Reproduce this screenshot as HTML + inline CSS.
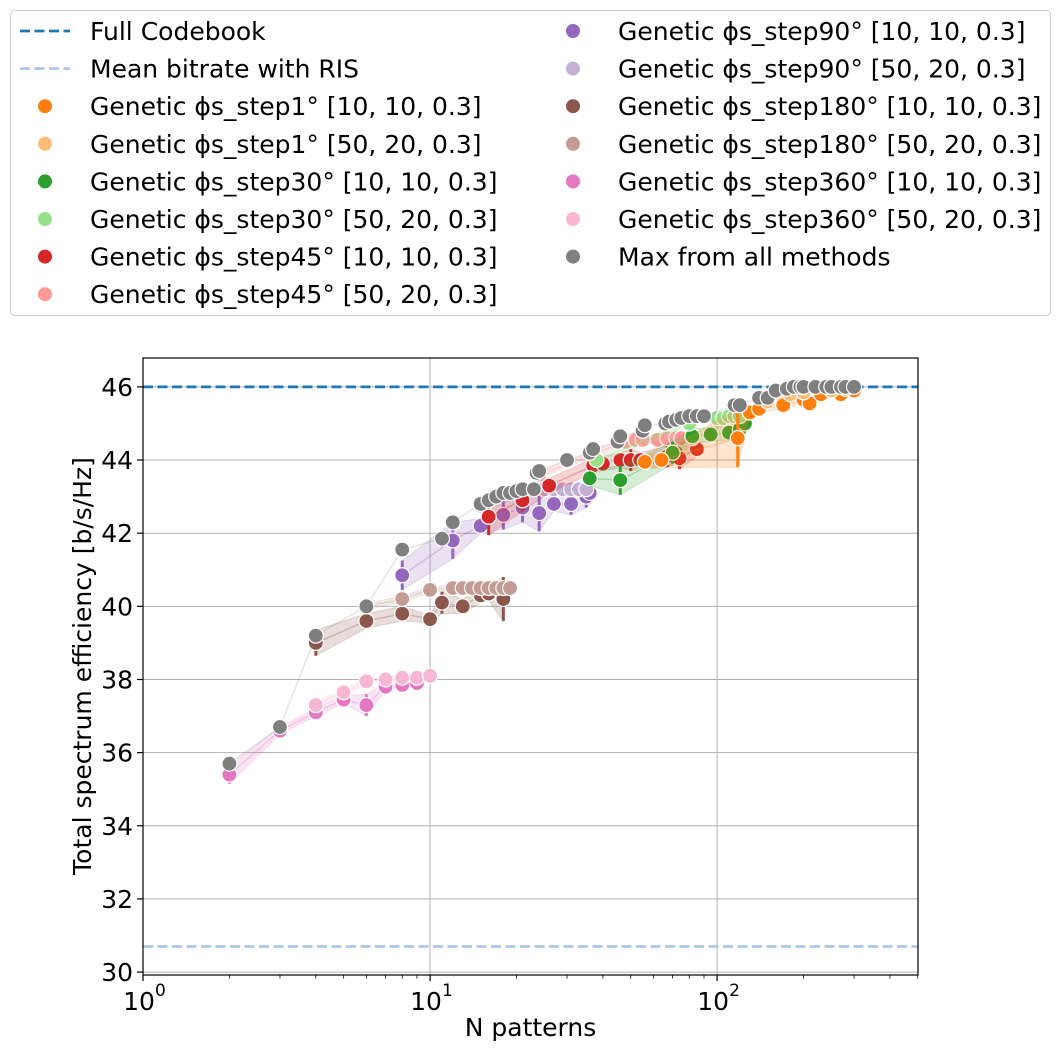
<!DOCTYPE html>
<html><head><meta charset="utf-8">
<style>
html,body{margin:0;padding:0;background:#fff;}
svg{display:block;font-family:"DejaVu Sans","Liberation Sans",sans-serif;}
</style></head>
<body>
<svg id="chart" width="1061" height="1051" viewBox="0 0 1061 1051">
<g id="legend"></g>
<g id="grid"></g>
<g id="plot"></g>
<g id="axes"></g>
</svg>
<script>
// ---- data ----
const fullCodebook = 46.0;
const meanBitrate = 30.7;
const yTicks = [30,32,34,36,38,40,42,44,46];
const xTickExps = [0,1,2];
const s1a_n = [56,64,118,130,140,170,200,210,230,270,300];
const s1a_v = [43.95,44.0,44.6,45.3,45.4,45.5,45.65,45.55,45.8,45.8,45.9];
const s1a_e = [0.2,0.2,0.8,0.1,0.1,0.1,0.1,0.1,0.1,0.1,0.1];
const s1b_n = [150,180,200,250,280];
const s1b_v = [45.6,45.8,45.85,45.9,45.95];
const s30a_n = [36,46,70,82,95,110,120,125];
const s30a_v = [43.5,43.45,44.2,44.65,44.7,44.75,44.85,45.0];
const s30a_e = [0.2,0.4,0.3,0.2,0.2,0.2,0.2,0.2];
const s30b_n = [38,80,100,105,110,115,120];
const s30b_v = [44.0,45.0,45.15,45.15,45.2,45.2,45.2];
const s45a_n = [16,21,26,37,40,46,50,54,67,72,74,85];
const s45a_v = [42.45,42.9,43.3,43.85,43.9,44.0,44.0,44.0,44.1,44.2,44.05,44.3];
const s45a_e = [0.5,0.3,0.2,0.2,0.2,0.2,0.3,0.2,0.3,0.3,0.3,0.2];
const s45b_n = [24,48,52,55,62,67,72,75,82];
const s45b_v = [43.6,44.5,44.55,44.55,44.55,44.6,44.6,44.6,44.6];
const s90a_n = [8,12,15,18,21,24,27,31,35,36];
const s90a_v = [40.85,41.8,42.2,42.5,42.7,42.55,42.8,42.8,43.0,43.1];
const s90a_e = [0.4,0.5,0.2,0.4,0.4,0.5,0.2,0.3,0.3,0.3];
const s90b_n = [15,25,27,29,31,33,35];
const s90b_v = [42.75,43.2,43.2,43.2,43.2,43.2,43.2];
const s180a_n = [4,6,8,10,11,13,15,16,18];
const s180a_v = [39.0,39.6,39.8,39.65,40.1,40.0,40.3,40.35,40.2];
const s180a_e = [0.35,0.2,0.2,0.1,0.3,0.2,0.2,0.2,0.6];
const s180b_n = [6,8,10,12,13,14,15,16,17,18,19];
const s180b_v = [40.0,40.2,40.45,40.5,40.5,40.5,40.5,40.5,40.5,40.5,40.5];
const s360a_n = [2,3,4,5,6,7,8,9];
const s360a_v = [35.4,36.6,37.1,37.45,37.3,37.8,37.85,37.9];
const s360a_e = [0.25,0.1,0.1,0.1,0.3,0.1,0.1,0.1];
const s360b_n = [4,5,6,7,8,9,10];
const s360b_v = [37.3,37.65,37.95,38.0,38.05,38.05,38.1];
const max_n = [2,3,4,6,8,11,12,15,16,17,18,19,20,21,23,23.5,24,30,36,37,45,46,55,56,66,68,72,75,80,85,90,115,120,140,150,160,175,185,195,200,220,240,250,270,280,300];
const max_v = [35.7,36.7,39.2,40.0,41.55,41.85,42.3,42.8,42.9,43.0,43.1,43.1,43.15,43.2,43.2,43.65,43.7,44.0,44.2,44.3,44.5,44.65,44.8,44.95,45.0,45.05,45.1,45.15,45.2,45.2,45.2,45.5,45.5,45.7,45.7,45.9,45.95,46.0,46.0,46.0,46.0,46.0,46.0,46.0,46.0,46.0];

// ---- scales ----
const X0=143, X1=918, Y0=358, Y1=975;
const xMin=0, xMax=Math.log10(501);
const yMin=29.92, yMax=46.79;
function sx(n){return X0+(Math.log10(n)-xMin)/(xMax-xMin)*(X1-X0);}
function sy(v){return Y1-(v-yMin)/(yMax-yMin)*(Y1-Y0);}

const NS="http://www.w3.org/2000/svg";
function mk(tag,attrs,parent){const e=document.createElementNS(NS,tag);for(const k in attrs)e.setAttribute(k,attrs[k]);parent.appendChild(e);return e;}
const grid=document.getElementById('grid'), plot=document.getElementById('plot'), axes=document.getElementById('axes'), legend=document.getElementById('legend');
const FS=25;

for(const t of yTicks){const l=mk('line',{x1:X0,x2:X1,y1:sy(t),y2:sy(t),stroke:'#b0b0b0','stroke-width':1},grid);

}
for(const e of xTickExps){const l=mk('line',{x1:sx(Math.pow(10,e)),x2:sx(Math.pow(10,e)),y1:Y0,y2:Y1,stroke:'#b0b0b0','stroke-width':1},grid);

}

const fl=mk('line',{x1:X0,x2:X1,y1:sy(fullCodebook),y2:sy(fullCodebook),stroke:'#1f77b4','stroke-width':2.8,'stroke-dasharray':'10,4.5'},plot);


const ml=mk('line',{x1:X0,x2:X1,y1:sy(meanBitrate),y2:sy(meanBitrate),stroke:'#aec7e8','stroke-width':2.8,'stroke-dasharray':'10,4.5'},plot);



function series(name,n,v,e,color,band,noBand){
  const g=mk('g',{},plot);
  
  
  const err=e||n.map(()=>0.08);
  if(!noBand){
    let up=n.map((x,i)=>sx(x)+','+sy(v[i]+err[i]));
    let lo=n.map((x,i)=>sx(x)+','+sy(v[i]-err[i])).reverse();
    const p=mk('polygon',{points:up.concat(lo).join(' '),fill:band,'fill-opacity':0.2,stroke:band,'stroke-opacity':0.2},g);
    
    
  }
  const pl=mk('polyline',{points:n.map((x,i)=>sx(x)+','+sy(v[i])).join(' '),fill:'none',stroke:band,'stroke-opacity':noBand?0.25:0.3,'stroke-width':1.5},g);
  
  
  n.forEach((x,i)=>{
    if(e){const b=mk('line',{x1:sx(x),x2:sx(x),y1:sy(v[i]-e[i]),y2:sy(v[i]+e[i]),stroke:color,'stroke-width':3},g);
      
      }
  });
  n.forEach((x,i)=>{
    const c=mk('circle',{cx:sx(x),cy:sy(v[i]),r:7.5,fill:color,stroke:'#fff','stroke-width':1.2},g);
    
    
  });
}
series('step360-a',s360a_n,s360a_v,s360a_e,'#e377c2','#e377c2');
series('step360-b',s360b_n,s360b_v,null,'#f7b6d2','#f7b6d2');
series('step180-a',s180a_n,s180a_v,s180a_e,'#8c564b','#8c564b');
series('step180-b',s180b_n,s180b_v,null,'#c49c94','#c49c94');
series('step90-a',s90a_n,s90a_v,s90a_e,'#9467bd','#9467bd');
series('step90-b',s90b_n,s90b_v,null,'#c5b0d5','#c5b0d5');
series('step45-a',s45a_n,s45a_v,s45a_e,'#d62728','#d62728');
series('step45-b',s45b_n,s45b_v,null,'#ff9896','#ff9896');
series('step30-a',s30a_n,s30a_v,s30a_e,'#2ca02c','#2ca02c');
series('step30-b',s30b_n,s30b_v,null,'#98df8a','#98df8a');
series('step1-a',s1a_n,s1a_v,s1a_e,'#ff7f0e','#ff7f0e');
series('step1-b',s1b_n,s1b_v,null,'#ffbb78','#ffbb78');
series('max-all',max_n,max_v,null,'#7f7f7f','#999999',true);

const fr=mk('rect',{x:X0,y:Y0,width:X1-X0,height:Y1-Y0,fill:'none',stroke:'#000','stroke-width':1.2},axes);


for(const t of yTicks){
  mk('line',{x1:X0-6,x2:X0,y1:sy(t),y2:sy(t),stroke:'#000','stroke-width':1.2},axes);
  const tx=mk('text',{x:X0-10,y:sy(t)+9,'text-anchor':'end','font-size':FS,fill:'#000'},axes);
  tx.textContent=t;
  
  
}
for(const e of xTickExps){
  const x=sx(Math.pow(10,e));
  mk('line',{x1:x,x2:x,y1:Y1,y2:Y1+6,stroke:'#000','stroke-width':1.2},axes);
  const tx=mk('text',{x:x-4,y:Y1+35,'text-anchor':'middle','font-size':FS,fill:'#000'},axes);
  tx.textContent='10';
  
  
  const sp=mk('text',{x:x+12,y:Y1+21,'font-size':17,fill:'#000'},axes);
  sp.textContent=String(e);
  
  
}
for(let d=0;d<3;d++)for(let k=2;k<=9;k++){const n=k*Math.pow(10,d);if(n>501)break;
  mk('line',{x1:sx(n),x2:sx(n),y1:Y1,y2:Y1+3.5,stroke:'#000','stroke-width':0.8},axes);}
const xt=mk('text',{x:(X0+X1)/2,y:1036,'text-anchor':'middle','font-size':FS,fill:'#000'},axes);
xt.textContent='N patterns';


const yt=mk('text',{x:0,y:0,'text-anchor':'middle','font-size':FS,fill:'#000',transform:'translate(91,666) rotate(-90)'},axes);
yt.textContent='Total spectrum efficiency [b/s/Hz]';



const lb=mk('rect',{x:10.5,y:10.5,width:1040,height:305,rx:4,fill:'#fff',stroke:'#ccc','stroke-width':1},legend);


const leftItems=[['line','#1f77b4','Full Codebook'],['line','#aec7e8','Mean bitrate with RIS'],
 ['dot','#ff7f0e','Genetic ϕs_step1° [10, 10, 0.3]'],['dot','#ffbb78','Genetic ϕs_step1° [50, 20, 0.3]'],
 ['dot','#2ca02c','Genetic ϕs_step30° [10, 10, 0.3]'],['dot','#98df8a','Genetic ϕs_step30° [50, 20, 0.3]'],
 ['dot','#d62728','Genetic ϕs_step45° [10, 10, 0.3]'],['dot','#ff9896','Genetic ϕs_step45° [50, 20, 0.3]']];
const rightItems=[['dot','#9467bd','Genetic ϕs_step90° [10, 10, 0.3]'],['dot','#c5b0d5','Genetic ϕs_step90° [50, 20, 0.3]'],
 ['dot','#8c564b','Genetic ϕs_step180° [10, 10, 0.3]'],['dot','#c49c94','Genetic ϕs_step180° [50, 20, 0.3]'],
 ['dot','#e377c2','Genetic ϕs_step360° [10, 10, 0.3]'],['dot','#f7b6d2','Genetic ϕs_step360° [50, 20, 0.3]'],
 ['dot','#7f7f7f','Max from all methods']];
function legCol(items,mx,tx){
  items.forEach((it,i)=>{
    const y=31+i*37.6;
    const g=mk('g',{},legend);
    
    
    if(it[0]==='line') mk('line',{x1:mx-25,x2:mx+25,y1:y,y2:y,stroke:it[1],'stroke-width':2.8,'stroke-dasharray':'10,4.5'},g);
    else mk('circle',{cx:mx,cy:y,r:7,fill:it[1]},g);
    const t=mk('text',{x:tx,y:y+9,'font-size':FS,fill:'#000'},g);
    t.textContent=it[2];
  });
}
legCol(leftItems,45,90);
legCol(rightItems,573,618);
</script>
</body></html>
